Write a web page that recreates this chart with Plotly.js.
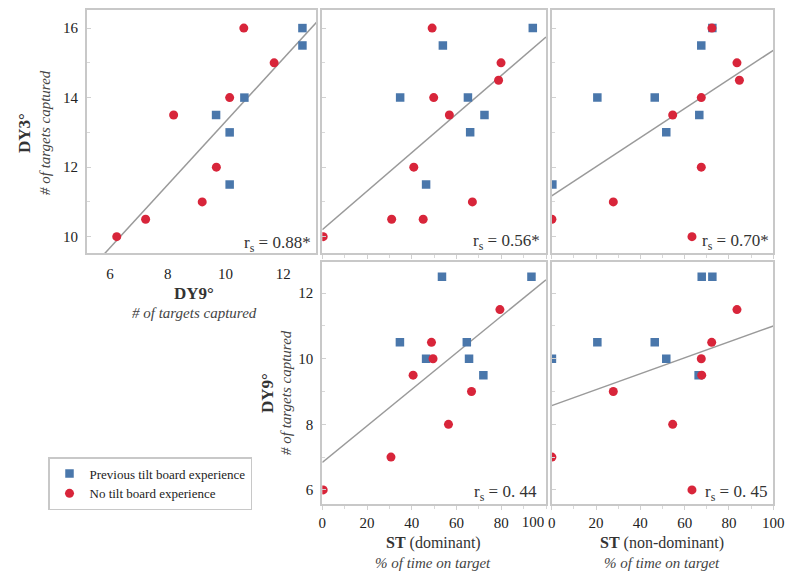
<!DOCTYPE html>
<html>
<head>
<meta charset="utf-8">
<script src="https://cdn.plot.ly/plotly-3.0.1.min.js"></script>
<style>html,body{margin:0;padding:0;background:#fff;}#chart{width:796px;height:581px;}</style>
</head>
<body>
<div id="chart"></div>
<script>
// ---- Data ----
// Panel A: DY9 (x) vs DY3 (y)
const prevDY9_a = [9.67, 10.14, 10.14, 10.65, 12.66, 12.66];
const prevDY3_a = [13.5, 13, 11.5, 14, 16, 15.5];
const noDY9_a = [6.23, 7.23, 8.2, 9.19, 9.68, 10.14, 10.63, 11.68];
const noDY3_a = [10, 10.5, 13.5, 11, 12, 14, 16, 15];
const fitA_x = [5.2, 13.2];
const fitA_y = [8.96, 16.21];

// Panel B: ST dominant (x) vs DY3 (y)
const prevSTd_b = [94.1, 53.9, 34.8, 65.1, 72.5, 66.1, 46.4];
const prevDY3_b = [16, 15.5, 14, 14, 13.5, 13, 11.5];
const noSTd_b = [49.1, 79.9, 78.8, 49.8, 56.8, 40.9, 67.1, 31, 45.1, 0.4];
const noDY3_b = [16, 15, 14.5, 14, 13.5, 12, 11, 10.5, 10.5, 10];
const fitB_x = [0, 100];
const fitB_y = [10.2, 15.74];

// Panel C: ST non-dominant (x) vs DY3 (y)
const prevSTn_c = [72.5, 67.5, 20.6, 46.5, 66.6, 51.7, 0.3];
const prevDY3_c = [16, 15.5, 14, 14, 13.5, 13, 11.5];
const noSTn_c = [72.3, 83.6, 84.7, 67.5, 54.6, 67.5, 27.8, 0.1, 63.3];
const noDY3_c = [16, 15, 14.5, 14, 13.5, 12, 11, 10.5, 10];
const fitC_x = [0, 100];
const fitC_y = [11.17, 15.36];

// Panel D: ST dominant (x) vs DY9 (y)
const prevSTd_d = [53.5, 93.5, 34.7, 64.6, 46.4, 65.6, 72];
const prevDY9_d = [12.5, 12.5, 10.5, 10.5, 10, 10, 9.5];
const noSTd_d = [79.4, 48.8, 49.5, 40.6, 66.7, 56.4, 30.7, 0.4];
const noDY9_d = [11.5, 10.5, 10, 9.5, 9, 8, 7, 6];
const fitD_x = [0, 100];
const fitD_y = [6.84, 12.41];

// Panel E: ST non-dominant (x) vs DY9 (y)
const prevSTn_e = [67.7, 72.5, 20.6, 46.5, 0.1, 51.7, 66.3];
const prevDY9_e = [12.5, 12.5, 10.5, 10.5, 10, 10, 9.5];
const noSTn_e = [83.6, 72.2, 67.5, 67.7, 27.8, 54.6, 0.1, 63.3];
const noDY9_e = [11.5, 10.5, 10, 9.5, 9, 8, 7, 6];
const fitE_x = [0, 100];
const fitE_y = [8.57, 11.0];

const rsLabels = ['r<sub>s</sub> = 0.88*', 'r<sub>s</sub> = 0.56*', 'r<sub>s</sub> = 0.70*', 'r<sub>s</sub> = 0. 44', 'r<sub>s</sub> = 0. 45'];
const groupNames = ['Previous tilt board experience', 'No tilt board experience'];
const dyTicks = [6, 8, 10, 12, 14, 16];
const stTicks = [0, 20, 40, 60, 80, 100];
const stTicksD = [0, 20, 40, 60, 80];
const stTickLast = [100];

// ---- Styling ----
const W = 796, H = 581;
const BLUE = '#4a77ab', RED = '#d8253a';
const FONT = 'Liberation Serif';
const px = v => v / W;
const py = v => 1 - v / H;

const panels = [
  {px: prevDY9_a, py: prevDY3_a, nx: noDY9_a, ny: noDY3_a, fx: fitA_x, fy: fitA_y},
  {px: prevSTd_b, py: prevDY3_b, nx: noSTd_b, ny: noDY3_b, fx: fitB_x, fy: fitB_y},
  {px: prevSTn_c, py: prevDY3_c, nx: noSTn_c, ny: noDY3_c, fx: fitC_x, fy: fitC_y},
  {px: prevSTd_d, py: prevDY9_d, nx: noSTd_d, ny: noDY9_d, fx: fitD_x, fy: fitD_y},
  {px: prevSTn_e, py: prevDY9_e, nx: noSTn_e, ny: noDY9_e, fx: fitE_x, fy: fitE_y}
];

const traces = [];
panels.forEach((p, i) => {
  const xa = i === 0 ? 'x' : 'x' + (i + 1);
  const ya = i === 0 ? 'y' : 'y' + (i + 1);
  traces.push({x: p.fx, y: p.fy, xaxis: xa, yaxis: ya, mode: 'lines', type: 'scatter',
    line: {color: '#9a9a9a', width: 1.5}, showlegend: false, hoverinfo: 'skip'});
  traces.push({x: p.px, y: p.py, xaxis: xa, yaxis: ya, mode: 'markers', type: 'scatter',
    name: groupNames[0], legendgroup: 'prev', showlegend: i === 0,
    marker: {symbol: 'square', size: 8.5, color: BLUE}});
  traces.push({x: p.nx, y: p.ny, xaxis: xa, yaxis: ya, mode: 'markers', type: 'scatter',
    name: groupNames[1], legendgroup: 'no', showlegend: i === 0,
    marker: {symbol: 'circle', size: 9, color: RED}});
});
// invisible carrier trace for the shifted "100" tick label of panel D
traces.push({x: fitD_x, y: fitD_y, xaxis: 'x6', yaxis: 'y4', mode: 'lines', type: 'scatter',
  line: {width: 0, color: 'rgba(0,0,0,0)'}, showlegend: false, hoverinfo: 'skip'});

const frame = {showline: true, mirror: true, linecolor: '#c8c8c8', linewidth: 2,
  showgrid: false, zeroline: false, fixedrange: true,
  tickfont: {family: FONT, size: 15, color: '#222'}, tickcolor: '#d0d0d0'};

function yDY(domain, range, labels) {
  return Object.assign({}, frame, {domain: domain, range: range, tickvals: dyTicks,
    showticklabels: labels, ticks: 'inside', ticklen: 4, ticklabelstandoff: 4,
    minor: {dtick: 1, ticks: 'inside', ticklen: 3, tickcolor: '#d8d8d8'}});
}
function xST(domain, labels, vals) {
  return Object.assign({}, frame, {domain: domain, range: [0, 100], tickvals: vals,
    showticklabels: labels, ticks: 'outside', ticklen: 4, ticklabelstandoff: 0,
    minor: {dtick: 10, ticks: 'outside', ticklen: 3, tickcolor: '#d8d8d8'}});
}

const topY = [py(253), py(10)];
const botY = [py(504), py(261.7)];
const topRange = [9.53, 16.52];
const botRange = [5.57, 12.96];
const dDomain = [px(322.3), px(546)];

const layout = {
  width: W, height: H,
  margin: {l: 0, r: 0, t: 0, b: 0},
  paper_bgcolor: '#fff', plot_bgcolor: '#fff',
  font: {family: FONT, color: '#222'},
  showlegend: true,
  legend: {x: px(48), y: py(457), xanchor: 'left', yanchor: 'top',
    bordercolor: '#c8c8c8', borderwidth: 1.5, bgcolor: '#fff',
    font: {family: FONT, size: 13, color: '#222'}, itemwidth: 30, tracegroupgap: 0},
  xaxis: Object.assign({}, frame, {domain: [px(87), px(316)], range: [5.2, 13.13],
    tickvals: dyTicks, ticks: '', ticklabelstandoff: 6, anchor: 'y'}),
  yaxis: Object.assign(yDY(topY, topRange, true), {anchor: 'x'}),
  xaxis2: Object.assign(xST([px(322.3), px(546)], false, stTicks), {anchor: 'y2'}),
  yaxis2: Object.assign(yDY(topY, topRange, false), {anchor: 'x2'}),
  xaxis3: Object.assign(xST([px(551.7), px(773.3)], false, stTicks), {anchor: 'y3'}),
  yaxis3: Object.assign(yDY(topY, topRange, false), {anchor: 'x3'}),
  xaxis4: Object.assign(xST(dDomain, true, stTicksD), {anchor: 'y4'}),
  yaxis4: Object.assign(yDY(botY, botRange, true), {anchor: 'x4'}),
  xaxis5: Object.assign(xST([px(551.7), px(773.3)], true, stTicks), {anchor: 'y5'}),
  yaxis5: Object.assign(yDY(botY, botRange, false), {anchor: 'x5'}),
  xaxis6: {domain: dDomain, range: [0, 100], overlaying: 'x4', anchor: 'y4', side: 'bottom',
    tickvals: stTickLast, ticks: 'outside', ticklen: 4, tickcolor: 'rgba(0,0,0,0)',
    showline: false, showgrid: false, zeroline: false,
    ticklabelshift: -13, ticklabelstandoff: 0, fixedrange: true,
    tickfont: {family: FONT, size: 15, color: '#222'}},
  annotations: []
};

// correlation labels
const rsPos = [[313, 244], [542, 242], [771, 242], [539, 493], [769, 493]];
rsLabels.forEach((t, i) => {
  layout.annotations.push({text: t, xref: 'paper', yref: 'paper', x: px(rsPos[i][0]), y: py(rsPos[i][1]),
    xanchor: 'right', yanchor: 'middle', showarrow: false,
    font: {family: FONT, size: 17, color: '#333'}});
});

// axis titles
function title(text, x, y, size, angle, italic) {
  layout.annotations.push({text: text, xref: 'paper', yref: 'paper', x: px(x), y: py(y),
    xanchor: 'center', yanchor: 'middle', showarrow: false, textangle: angle || 0,
    font: {family: FONT, size: size, color: italic ? '#444' : '#333'}});
}
title('<b>DY3°</b>', 25, 133, 17, -90);
title('<i># of targets captured</i>', 45, 133, 15, -90, true);
title('<b>DY9°</b>', 194, 293, 17, 0);
title('<i># of targets captured</i>', 194, 313, 15, 0, true);
title('<b>DY9°</b>', 267, 393, 17, -90);
title('<i># of targets captured</i>', 286, 393, 15, -90, true);
title('<b>ST</b> (dominant)', 433, 543, 16, 0);
title('<i>% of time on target</i>', 433, 563, 15, 0, true);
title('<b>ST</b> (non-dominant)', 662, 543, 16, 0);
title('<i>% of time on target</i>', 662, 563, 15, 0, true);

Plotly.newPlot('chart', traces, layout, {displayModeBar: false, staticPlot: true});
</script>
</body>
</html>
